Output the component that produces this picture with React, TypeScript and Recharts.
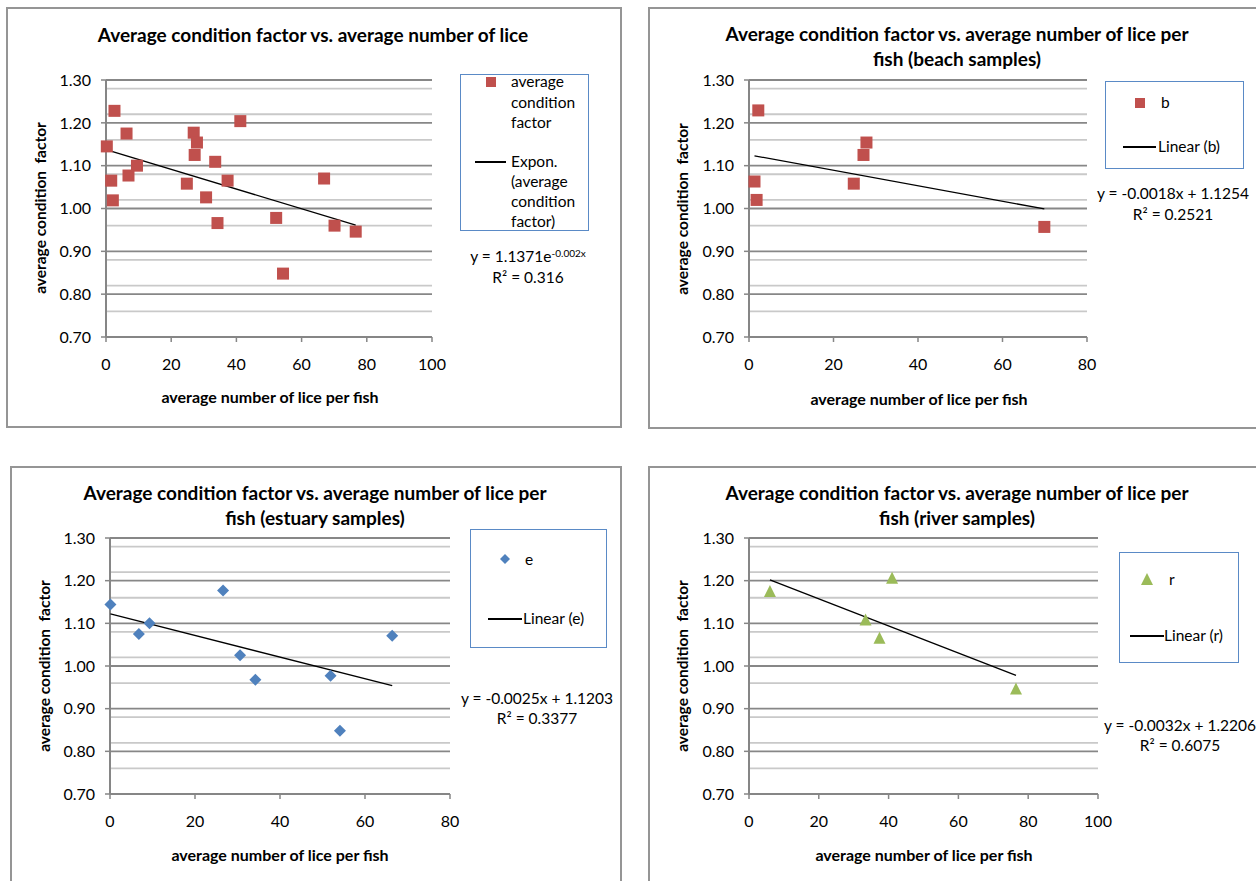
import React from "react";
import { CartesianGrid, Scatter, ScatterChart, XAxis, YAxis } from "recharts";

// (x = average lice per fish, y = condition factor).
// Beach samples
const beachX = [1.3, 1.8, 2.2, 24.8, 27.1, 27.8, 69.9];
const beachY = [1.063, 1.02, 1.229, 1.058, 1.125, 1.154, 0.957];
const beachTrendX = [1.3, 69.9];
const beachTrendY = [1.123, 0.999];

// Estuary samples
const estuaryX = [0.1, 6.8, 9.3, 26.6, 30.6, 34.2, 51.9, 54.1, 66.4];
const estuaryY = [1.144, 1.075, 1.1, 1.177, 1.025, 0.968, 0.977, 0.848, 1.071];
const estuaryTrendX = [0.1, 66.4];
const estuaryTrendY = [1.122, 0.954];

// River samples
const riverX = [6.0, 33.4, 37.4, 41.0, 76.5];
const riverY = [1.176, 1.109, 1.066, 1.207, 0.947];
const riverTrendX = [6.0, 76.5];
const riverTrendY = [1.202, 0.978];

// All samples together
const allX = [0.25, 2.6, 6.3, 1.6, 2.1, 6.9, 9.5, 26.9, 27.9, 27.2, 24.8, 30.7, 33.5, 34.2, 37.3, 41.2, 52.2, 54.3, 66.9, 70.1, 76.6];
const allY = [1.145, 1.228, 1.175, 1.065, 1.019, 1.077, 1.1, 1.177, 1.154, 1.125, 1.058, 1.026, 1.109, 0.966, 1.065, 1.204, 0.978, 0.848, 1.07, 0.96, 0.946];
const allTrendX = [0.25, 76.6];
const allTrendY = [1.137, 0.961];

const yTicks = [0.7, 0.8, 0.9, 1.0, 1.1, 1.2, 1.3];
const yMinor = [
  0.72, 0.74, 0.76, 0.78, 0.82, 0.84, 0.86, 0.88, 0.92, 0.94, 0.96, 0.98,
  1.02, 1.04, 1.06, 1.08, 1.12, 1.14, 1.16, 1.18, 1.22, 1.24, 1.26, 1.28,
];
const xTicks100 = [0, 20, 40, 60, 80, 100];
const xTicks80 = [0, 20, 40, 60, 80];

const FONT = "Lato, 'Open Sans', sans-serif";
const RED = "#C0504D";
const BLUE = "#4F81BD";
const GREEN = "#9BBB59";
const AXIS = "#868686";

const zip = (xs: number[], ys: number[]) => xs.map((x, i) => ({ x, y: ys[i] }));

type Kind = "square" | "diamond" | "triangle";

function Marker({ kind, cx, cy, s }: { kind: Kind; cx: number; cy: number; s: number }) {
  const h = s / 2;
  if (kind === "square") return <rect x={cx - h} y={cy - h} width={s} height={s} fill={RED} />;
  if (kind === "diamond")
    return <polygon points={`${cx},${cy - h} ${cx + h},${cy} ${cx},${cy + h} ${cx - h},${cy}`} fill={BLUE} />;
  return <polygon points={`${cx},${cy - h} ${cx + h},${cy + h} ${cx - h},${cy + h}`} fill={GREEN} />;
}

const noDot = () => <g />;

type Cfg = {
  box: { x: number; y: number; w: number; h: number };
  plot: { x0: number; x1: number; y0: number; y1: number };
  xMax: number;
  xTicks: number[];
  points: { x: number; y: number }[];
  trend: { x: number; y: number }[];
  kind: Kind;
  title: string[];
  titleX: number;
  titleY: number[];
  xTitle: [number, number];
  yTitle: [number, number];
  legendBox: { x: number; y: number; w: number; h: number };
  markerAt: [number, number];
  seriesLines: string[];
  seriesAt: [number, number];
  trendLine: [number, number, number];
  trendLines: string[];
  trendTextAt: [number, number];
  eq: React.ReactNode;
  r2: string;
  eqAt: [number, number, number];
};

function Txt({
  x,
  y,
  children,
  size = 15,
  bold = false,
  center = false,
}: {
  x: number;
  y: number;
  children: React.ReactNode;
  size?: number;
  bold?: boolean;
  center?: boolean;
}) {
  return (
    <div
      style={{
        position: "absolute",
        left: x,
        top: y - size / 2,
        lineHeight: `${size}px`,
        fontSize: size,
        fontWeight: bold ? 700 : 400,
        whiteSpace: "nowrap",
        transform: center ? "translateX(-50%)" : undefined,
        color: "#000",
      }}
    >
      {children}
    </div>
  );
}

function Panel({ c }: { c: Cfg }) {
  const yw = 60;
  const mt = 10;
  const mr = 30;
  const xh = 40;
  const w = c.plot.x1 - c.plot.x0 + yw + mr;
  const h = c.plot.y1 - c.plot.y0 + mt + xh;
  const lb = c.legendBox;
  return (
    <>
      <div
        style={{
          position: "absolute",
          left: c.box.x,
          top: c.box.y,
          width: c.box.w,
          height: c.box.h,
          border: "2px solid #959595",
          boxSizing: "border-box",
          background: "#fff",
        }}
      />
      <div style={{ position: "absolute", left: c.plot.x0 - yw, top: c.plot.y0 - mt }}>
        <ScatterChart width={w} height={h} margin={{ top: mt, right: mr, bottom: 0, left: 0 }}>
          <CartesianGrid horizontalValues={yMinor} vertical={false} stroke="#c9c9c9" strokeWidth={1.8} />
          <CartesianGrid horizontalValues={yTicks} vertical={false} stroke="#878787" strokeWidth={1.8} />
          <XAxis
            type="number"
            dataKey="x"
            domain={[0, c.xMax]}
            ticks={c.xTicks}
            height={xh}
            stroke={AXIS}
            axisLine={{ stroke: AXIS, strokeWidth: 2 }}
            tickLine={{ stroke: AXIS, strokeWidth: 1.5 }}
            tickSize={5}
            tickMargin={17}
            tick={{ fill: "#000", fontSize: 16, fontFamily: FONT }}
          />
          <YAxis
            type="number"
            dataKey="y"
            domain={[0.7, 1.3]}
            ticks={yTicks}
            width={yw}
            stroke={AXIS}
            axisLine={{ stroke: AXIS, strokeWidth: 2 }}
            tickLine={{ stroke: AXIS, strokeWidth: 1.5 }}
            tickSize={5}
            tickMargin={10}
            tick={{ fill: "#000", fontSize: 16, fontFamily: FONT }}
            tickFormatter={(v: number) => v.toFixed(2)}
          />
          <Scatter
            data={c.trend}
            line={{ stroke: "#000", strokeWidth: 1.3 }}
            shape={noDot}
            isAnimationActive={false}
          />
          <Scatter
            data={c.points}
            shape={(p: any) => <Marker kind={c.kind} cx={p.cx} cy={p.cy} s={12} />}
            isAnimationActive={false}
          />
        </ScatterChart>
      </div>

      {c.title.map((t, i) => (
        <Txt key={t} x={c.titleX} y={c.titleY[i]} size={19} bold center>
          {t}
        </Txt>
      ))}
      <Txt x={c.xTitle[0]} y={c.xTitle[1]} size={16} bold center>
        average number of lice per fish
      </Txt>
      <div
        style={{
          position: "absolute",
          left: c.yTitle[0],
          top: c.yTitle[1],
          transform: "translate(-50%, -50%) rotate(-90deg)",
          fontSize: 15.5,
          fontWeight: 700,
          whiteSpace: "pre",
          lineHeight: "16px",
        }}
      >
        {"average condition  factor"}
      </div>

      <div
        style={{
          position: "absolute",
          left: lb.x,
          top: lb.y,
          width: lb.w,
          height: lb.h,
          border: "1.5px solid #5a8ac6",
          boxSizing: "border-box",
        }}
      />
      <svg
        style={{ position: "absolute", left: c.markerAt[0] - 8, top: c.markerAt[1] - 8 }}
        width={16}
        height={16}
      >
        <Marker kind={c.kind} cx={8} cy={8} s={c.kind === "triangle" ? 12 : 10} />
      </svg>
      {c.seriesLines.map((t, i) => (
        <Txt key={t} x={c.seriesAt[0]} y={c.seriesAt[1] + i * 20.5} size={15.5}>
          {t}
        </Txt>
      ))}
      <div
        style={{
          position: "absolute",
          left: c.trendLine[0],
          top: c.trendLine[2] - 1,
          width: c.trendLine[1] - c.trendLine[0],
          height: 1.5,
          background: "#000",
        }}
      />
      {c.trendLines.map((t, i) => (
        <Txt key={t} x={c.trendTextAt[0]} y={c.trendTextAt[1] + i * 20} size={15.5}>
          {t}
        </Txt>
      ))}
      <Txt x={c.eqAt[0]} y={c.eqAt[1]} size={15.5} center>
        {c.eq}
      </Txt>
      <Txt x={c.eqAt[0]} y={c.eqAt[2]} size={15.5} center>
        {c.r2}
      </Txt>
    </>
  );
}

const sup = (s: string) => <sup style={{ fontSize: 10, verticalAlign: "5px", lineHeight: 0 }}>{s}</sup>;

const panels: Cfg[] = [
  {
    box: { x: 6, y: 7, w: 616, h: 421 },
    plot: { x0: 106, x1: 432, y0: 80, y1: 337 },
    xMax: 100,
    xTicks: xTicks100,
    points: zip(allX, allY),
    trend: zip(allTrendX, allTrendY),
    kind: "square",
    title: ["Average condition factor vs. average number of lice"],
    titleX: 313,
    titleY: [34],
    xTitle: [270, 397],
    yTitle: [40, 208],
    legendBox: { x: 460, y: 74, w: 129, h: 157 },
    markerAt: [491, 82],
    seriesLines: ["average", "condition", "factor"],
    seriesAt: [511, 82],
    trendLine: [475, 506, 162],
    trendLines: ["Expon.", "(average", "condition", "factor)"],
    trendTextAt: [511, 162],
    eq: (
      <>
        y = 1.1371e{sup("-0.002x")}
      </>
    ),
    r2: "R² = 0.316",
    eqAt: [528, 257, 278],
  },
  {
    box: { x: 648, y: 7, w: 620, h: 422 },
    plot: { x0: 749, x1: 1087, y0: 80, y1: 337 },
    xMax: 80,
    xTicks: xTicks80,
    points: zip(beachX, beachY),
    trend: zip(beachTrendX, beachTrendY),
    kind: "square",
    title: ["Average condition factor vs. average number of lice per", "fish (beach samples)"],
    titleX: 957,
    titleY: [33, 58],
    xTitle: [919, 399],
    yTitle: [682, 209],
    legendBox: { x: 1105, y: 81, w: 139, h: 88 },
    markerAt: [1140, 103],
    seriesLines: ["b"],
    seriesAt: [1161, 103],
    trendLine: [1123, 1156, 147],
    trendLines: ["Linear (b)"],
    trendTextAt: [1158, 147],
    eq: <>y = -0.0018x + 1.1254</>,
    r2: "R² = 0.2521",
    eqAt: [1173, 194, 215],
  },
  {
    box: { x: 10, y: 466, w: 612, h: 430 },
    plot: { x0: 110, x1: 450, y0: 538, y1: 794 },
    xMax: 80,
    xTicks: xTicks80,
    points: zip(estuaryX, estuaryY),
    trend: zip(estuaryTrendX, estuaryTrendY),
    kind: "diamond",
    title: ["Average condition factor vs. average number of lice per", "fish (estuary samples)"],
    titleX: 315,
    titleY: [492, 517],
    xTitle: [280, 855],
    yTitle: [44, 666],
    legendBox: { x: 470, y: 529, w: 137, h: 119 },
    markerAt: [505, 559],
    seriesLines: ["e"],
    seriesAt: [525, 560],
    trendLine: [488, 522, 619],
    trendLines: ["Linear (e)"],
    trendTextAt: [523, 619],
    eq: <>y = -0.0025x + 1.1203</>,
    r2: "R² = 0.3377",
    eqAt: [537, 699, 719],
  },
  {
    box: { x: 648, y: 466, w: 620, h: 430 },
    plot: { x0: 749, x1: 1098, y0: 538, y1: 794 },
    xMax: 100,
    xTicks: xTicks100,
    points: zip(riverX, riverY),
    trend: zip(riverTrendX, riverTrendY),
    kind: "triangle",
    title: ["Average condition factor vs. average number of lice per", "fish (river samples)"],
    titleX: 957,
    titleY: [492, 517],
    xTitle: [924, 855],
    yTitle: [682, 666],
    legendBox: { x: 1119, y: 552, w: 120, h: 111 },
    markerAt: [1147, 579],
    seriesLines: ["r"],
    seriesAt: [1169, 580],
    trendLine: [1130, 1164, 636],
    trendLines: ["Linear (r)"],
    trendTextAt: [1164, 636],
    eq: <>y = -0.0032x + 1.2206</>,
    r2: "R² = 0.6075",
    eqAt: [1180, 726, 746],
  },
];

export default function App() {
  return (
    <div
      style={{
        position: "absolute",
        left: 0,
        top: 0,
        width: 1256,
        height: 881,
        overflow: "hidden",
        background: "#fff",
        fontFamily: FONT,
      }}
    >
      {panels.map((c, i) => (
        <Panel key={i} c={c} />
      ))}
    </div>
  );
}
